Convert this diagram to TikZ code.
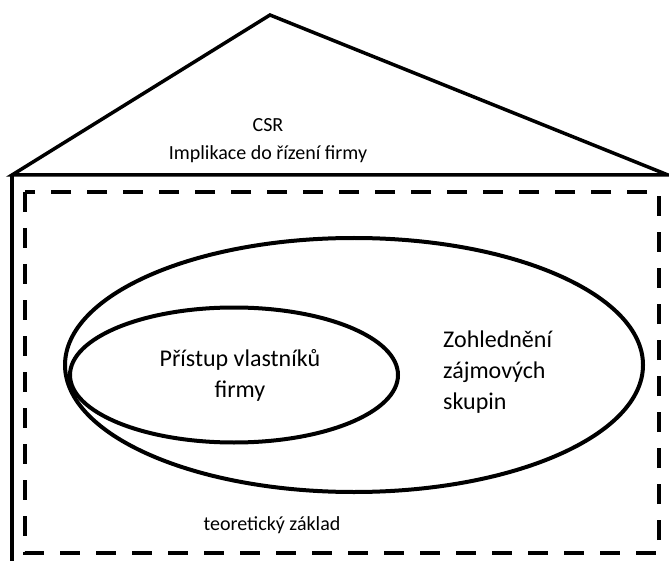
\documentclass[tikz,border=0pt]{standalone}
\usepackage{fontspec}
\setmainfont{Carlito}
\usetikzlibrary{shapes.geometric}

\tikzset{
  wall/.style={line width=3.5pt, line join=miter},
  frame/.style={line width=4pt, dash pattern=on 20pt off 16pt},
  ring/.style={draw, ellipse, line width=4pt, inner sep=0pt},
  label/.style={font=\fontsize{20}{28}\selectfont, inner sep=0pt},
  biglabel/.style={font=\fontsize{24}{31}\selectfont, inner sep=0pt},
}

\begin{document}
\begin{tikzpicture}[x=1pt, y=-1pt]
  \useasboundingbox (0,0) rectangle (669,561);

  % house outline: roof triangle and left wall
  \coordinate (apex) at (270,15);
  \coordinate (eaveL) at (12,175);
  \coordinate (eaveR) at (668,175);
  \coordinate (floorL) at (12,563);
  \draw[wall] (eaveL) -- (apex) -- (eaveR) -- cycle;
  \draw[wall] (eaveL) -- (floorL);

  % dashed inner frame
  \draw[frame] (25,192) rectangle (659,553);

  % nested ellipses
  \node[ring, minimum width=578pt, minimum height=254pt] (outer) at (354,365) {};
  \node[ring, minimum width=328pt, minimum height=135pt] (inner) at (234,375) {};

  % texts
  \node[label, align=center] (roof) at (268,141) {CSR\\Implikace do řízení firmy};
  \node[biglabel, align=center] (owners) at (240,375) {Přístup vlastníků\\firmy};
  \node[biglabel, align=left, anchor=west] (stake) at (443,372) {Zohlednění\\zájmových\\skupin};
  \node[label] (base) at (272,525) {teoretický základ};
\end{tikzpicture}
\end{document}
